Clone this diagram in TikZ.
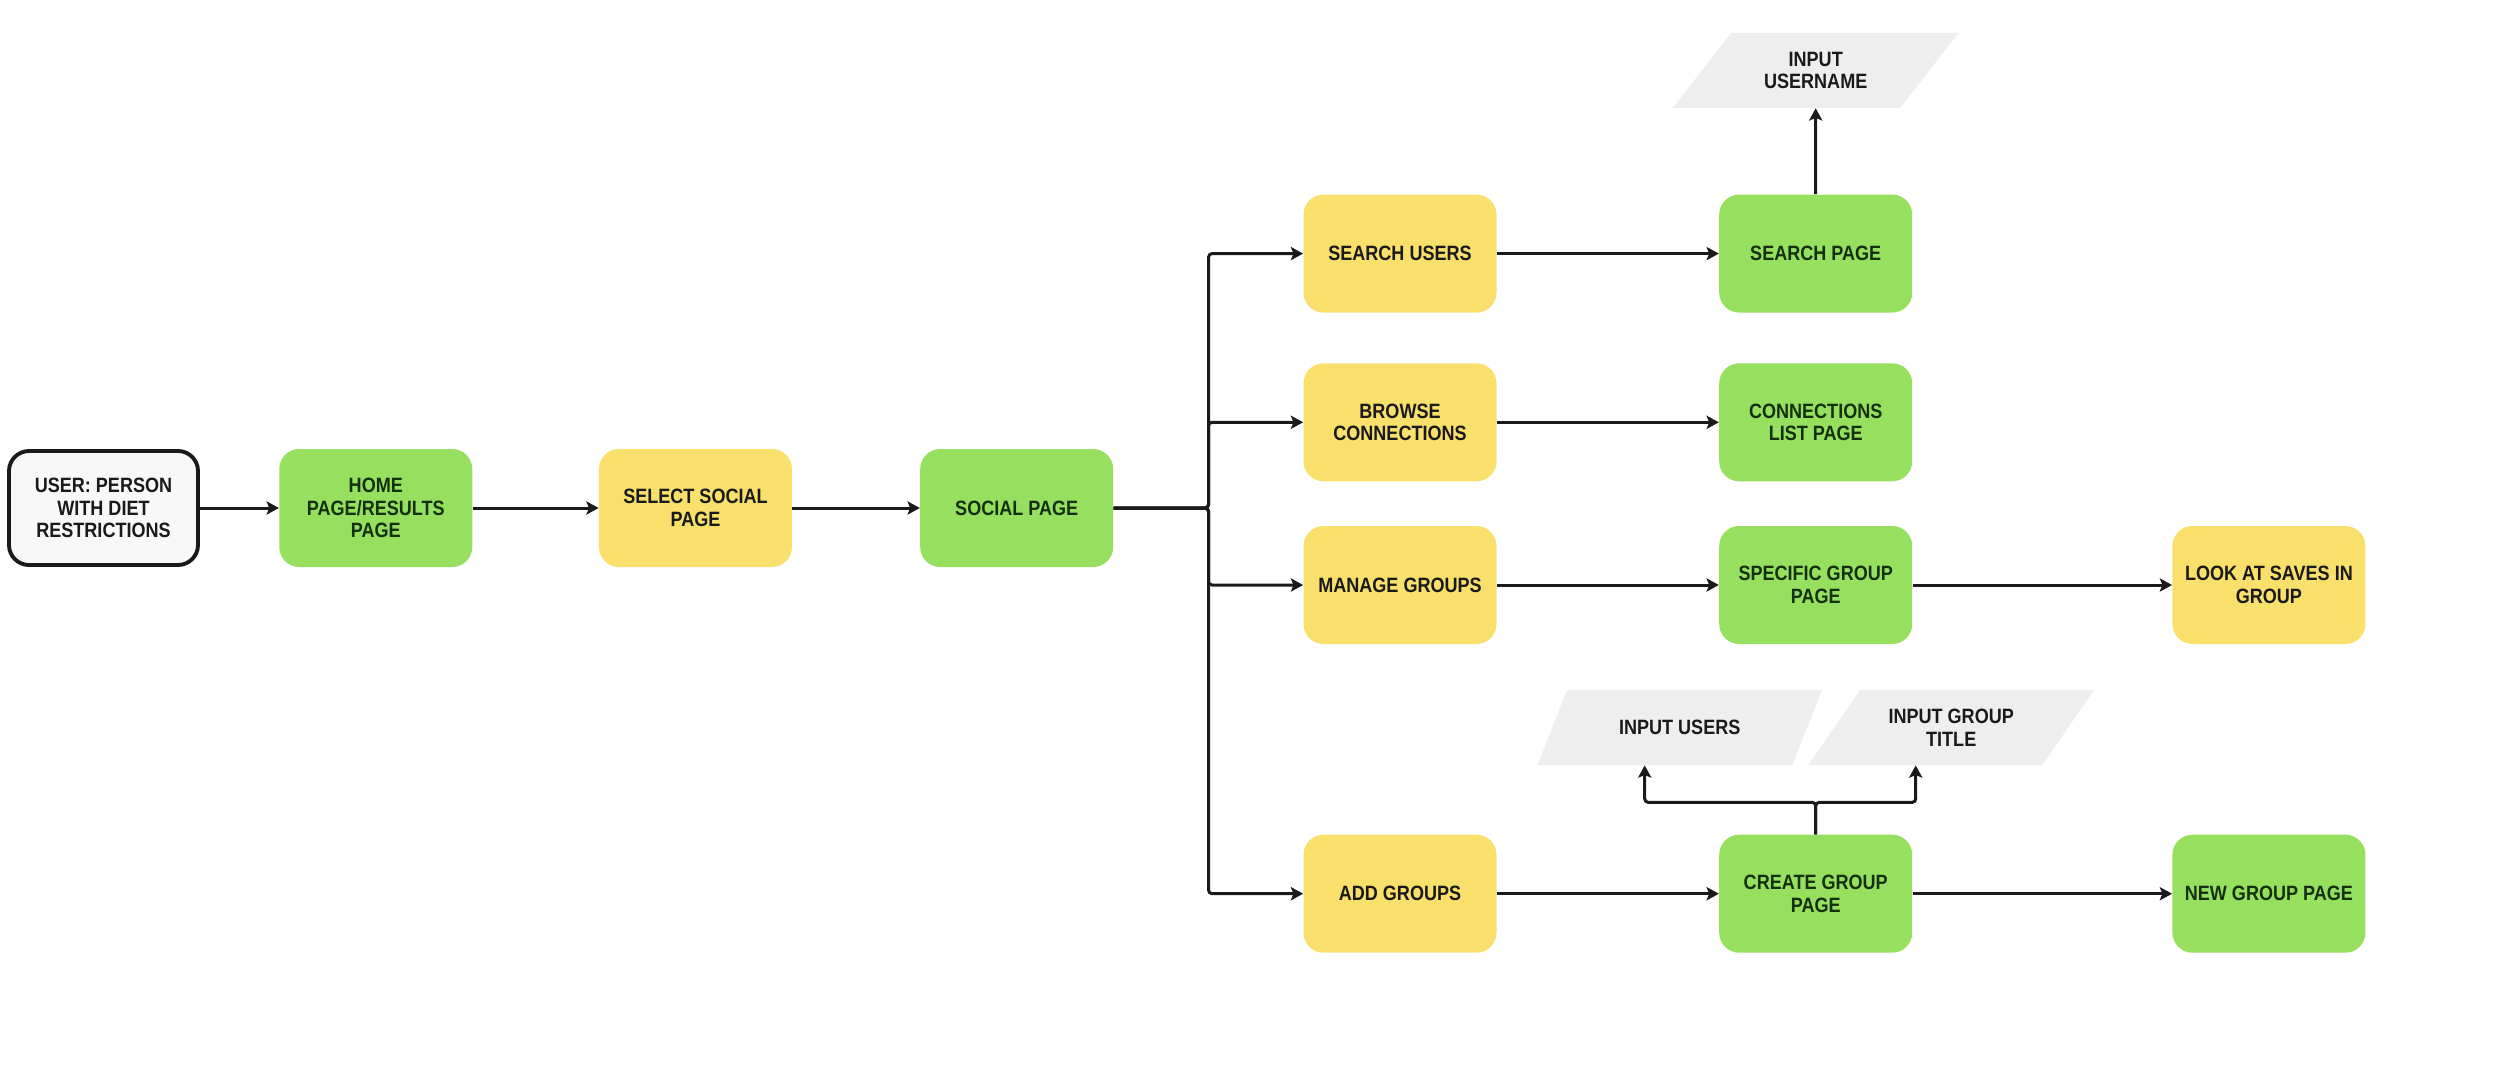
\documentclass[tikz,border=0pt]{standalone}
\usepackage{fontspec}
\setmainfont{Liberation Sans}[FakeStretch=0.87]
\usepackage{xcolor}
\usetikzlibrary{shapes.geometric,arrows.meta,positioning}

\definecolor{pagegreen}{HTML}{97E05F}
\definecolor{actyellow}{HTML}{F9DF6B}
\definecolor{inputgray}{HTML}{EEEEEE}
\definecolor{usergray}{HTML}{F8F8F8}
\definecolor{ink}{HTML}{1A1A1A}
\definecolor{inkgreen}{HTML}{15300E}

\begin{document}
\begin{tikzpicture}[
    node distance=1cm,
    font=\fontsize{11.8pt}{13pt}\selectfont\bfseries,
    box/.style={rectangle, rounded corners=0.4cm, minimum width=3.86cm, minimum height=2.36cm, align=center, inner sep=2pt},
    userbox/.style={box, draw=ink, line width=2.2pt, fill=usergray, text=ink, minimum width=3.78cm, minimum height=2.28cm},
    pagebox/.style={box, fill=pagegreen, text=inkgreen},
    actbox/.style={box, fill=actyellow, text=ink},
    inputbox/.style={trapezium, trapezium left angle=48, trapezium right angle=132, trapezium stretches=true, fill=inputgray, text=ink, minimum width=5.72cm, minimum height=1.5cm, align=center, inner sep=1pt},
    arrow/.style={draw=ink, line width=1.7pt, ->, >={Stealth[length=7pt,width=7.5pt,inset=1.5pt]}, rounded corners=2pt}
]
    \useasboundingbox (0,0) rectangle (50,-21.76);

    % main row
    \node[userbox] (user) at (2.07,-10.16) {USER: PERSON\\WITH DIET\\RESTRICTIONS};
    \node[pagebox, right=1.58cm of user] (home) {HOME\\PAGE/RESULTS\\PAGE};
    \node[actbox, right=2.52cm of home] (select) {SELECT SOCIAL\\PAGE};
    \node[pagebox, right=2.55cm of select] (social) {SOCIAL PAGE};
    \coordinate[right=1.9cm of social] (fork);

    % social actions
    \node[actbox] (mg) at (28.0,-11.7) {MANAGE GROUPS};
    \node[actbox, above=0.88cm of mg] (bc) {BROWSE\\CONNECTIONS};
    \node[actbox, above=1.0cm of bc] (su) {SEARCH USERS};
    \node[actbox, below=3.8cm of mg] (ag) {ADD GROUPS};

    % resulting pages
    \node[pagebox, right=4.44cm of su] (sp) {SEARCH PAGE};
    \node[pagebox, right=4.44cm of bc] (cl) {CONNECTIONS\\LIST PAGE};
    \node[pagebox, right=4.44cm of mg] (sg) {SPECIFIC GROUP\\PAGE};
    \node[pagebox, right=4.44cm of ag] (cg) {CREATE GROUP\\PAGE};
    \node[actbox, right=5.19cm of sg] (ls) {LOOK AT SAVES IN\\GROUP};
    \node[pagebox, right=5.19cm of cg] (ng) {NEW GROUP PAGE};

    % inputs
    \node[inputbox, above=1.72cm of sp] (un) {INPUT\\USERNAME};
    \node[inputbox, above=1.38cm of cg, xshift=-2.72cm] (iu) {INPUT USERS};
    \node[inputbox, above=1.38cm of cg, xshift=2.71cm] (it) {INPUT GROUP\\TITLE};

    \draw[arrow] (user) -- (home);
    \draw[arrow] (home) -- (select);
    \draw[arrow] (select) -- (social);
    \foreach \t in {su,bc,mg,ag}
        \draw[arrow] (social.east) -- (fork) |- (\t);

    \draw[arrow] (su) -- (sp);
    \draw[arrow] (bc) -- (cl);
    \draw[arrow] (mg) -- (sg);
    \draw[arrow] (sg) -- (ls);
    \draw[arrow] (ag) -- (cg);
    \draw[arrow] (cg) -- (ng);

    \draw[arrow] (sp) -- (un);
    \draw[arrow] (cg.north) -- ++(0,0.64) -| ([xshift=-0.7cm]iu.south);
    \draw[arrow] (cg.north) -- ++(0,0.64) -| ([xshift=-0.71cm]it.south);
\end{tikzpicture}
\end{document}
